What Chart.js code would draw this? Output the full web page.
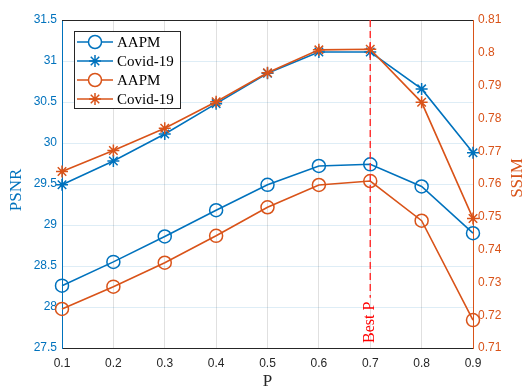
<!DOCTYPE html>
<html>
<head>
<meta charset="utf-8">
<script src="https://cdn.jsdelivr.net/npm/chart.js"></script>
<style>
    html, body { margin: 0; padding: 0; background: #fff; }
    #wrap { width: 527px; height: 390px; }
</style>
</head>
<body>
<div id="wrap"><canvas id="myChart" width="527" height="390"></canvas></div>
<script>
// values
const pValues = ['0.1', '0.2', '0.3', '0.4', '0.5', '0.6', '0.7', '0.8', '0.9'];
const psnrAapm = [28.26, 28.55, 28.86, 29.18, 29.49, 29.72, 29.74, 29.47, 28.90];
const psnrCovid = [29.49, 29.78, 30.11, 30.48, 30.85, 31.11, 31.11, 30.66, 29.88];
const ssimAapm = [0.7219, 0.7287, 0.7360, 0.7442, 0.7529, 0.7597, 0.7609, 0.7488, 0.7185];
const ssimCovid = [0.7638, 0.7702, 0.7770, 0.7851, 0.7939, 0.8009, 0.8011, 0.7849, 0.7495];
const psnrTicks = [27.5, 28, 28.5, 29, 29.5, 30, 30.5, 31, 31.5];
const ssimTicks = [0.71, 0.72, 0.73, 0.74, 0.75, 0.76, 0.77, 0.78, 0.79, 0.80, 0.81];
const bestP = '0.7';
const bestLabel = 'Best P';

const BLUE = '#0072BD';
const ORANGE = '#D95319';
const SANS = "'Liberation Sans', Arial, sans-serif";
const SERIF = "'Liberation Serif', 'Times New Roman', serif";

function makeSeries(label, data, color, marker, axis, order) {
    return {
        label: label,
        data: data,
        yAxisID: axis,
        order: order,
        borderColor: color,
        borderWidth: 1.6,
        tension: 0,
        fill: false,
        pointStyle: marker,
        pointRadius: marker === 'circle' ? 6.5 : 6,
        pointBorderWidth: 1.5,
        pointBorderColor: color,
        pointBackgroundColor: 'rgba(0,0,0,0)'
    };
}

function shortNum(v) {
    return String(Number(Number(v).toFixed(2)));
}

const extras = {
    id: 'matlab_extras',
    afterDatasetsDraw: (chart) => {
        const { ctx, chartArea, scales } = chart;
        ctx.save();

        // top box line
        ctx.strokeStyle = '#262626';
        ctx.lineWidth = 1;
        ctx.beginPath();
        ctx.moveTo(chartArea.left, chartArea.top + 0.5);
        ctx.lineTo(chartArea.right, chartArea.top + 0.5);
        ctx.stroke();

        // best P line + label
        const bx = scales.x.getPixelForValue(pValues.indexOf(bestP));
        ctx.font = '16px ' + SERIF;
        const textW = ctx.measureText(bestLabel).width;
        const textBottom = chartArea.bottom - 5;
        ctx.strokeStyle = '#FF2A2A';
        ctx.lineWidth = 1.4;
        ctx.setLineDash([7, 4]);
        ctx.beginPath();
        ctx.moveTo(bx, chartArea.top);
        ctx.lineTo(bx, textBottom - textW - 4);
        ctx.stroke();
        ctx.setLineDash([]);
        ctx.save();
        ctx.translate(bx, textBottom);
        ctx.rotate(-Math.PI / 2);
        ctx.fillStyle = '#FF0000';
        ctx.textAlign = 'left';
        ctx.textBaseline = 'middle';
        ctx.fillText(bestLabel, 0, 0);
        ctx.restore();

        // legend
        const items = chart.data.datasets;
        const lx = 74, ly = 31, lw = 106, lh = 77;
        ctx.fillStyle = '#fff';
        ctx.fillRect(lx, ly, lw, lh);
        ctx.strokeStyle = '#262626';
        ctx.lineWidth = 1;
        ctx.strokeRect(lx + 0.5, ly + 0.5, lw, lh);
        ctx.font = '15px ' + SERIF;
        ctx.textBaseline = 'middle';
        ctx.textAlign = 'left';
        items.forEach((ds, i) => {
            const y = ly + 11 + i * 19;
            ctx.strokeStyle = ds.borderColor;
            ctx.lineWidth = 1.6;
            ctx.beginPath();
            ctx.moveTo(lx + 3, y);
            ctx.lineTo(lx + 39, y);
            ctx.stroke();
            ctx.lineWidth = 1.5;
            ctx.fillStyle = '#fff';
            Chart.helpers.drawPoint(ctx, {
                pointStyle: ds.pointStyle,
                radius: ds.pointRadius,
                borderWidth: 1.5
            }, lx + 21, y);
            ctx.fillStyle = '#000';
            ctx.fillText(ds.label, lx + 43, y + 1);
        });

        // axis titles
        ctx.font = '17px ' + SERIF;
        ctx.textAlign = 'center';
        ctx.fillStyle = '#262626';
        ctx.fillText('P', (chartArea.left + chartArea.right) / 2, 382);
        [['PSNR', BLUE, 17, 190], ['SSIM', ORANGE, 518, 178]].forEach((t) => {
            ctx.save();
            ctx.translate(t[2], t[3]);
            ctx.rotate(-Math.PI / 2);
            ctx.fillStyle = t[1];
            ctx.fillText(t[0], 0, 0);
            ctx.restore();
        });

        ctx.restore();
    }
};

const ctx = document.getElementById('myChart').getContext('2d');
const myChart = new Chart(ctx, {
    type: 'line',
    data: {
        labels: pValues,
        datasets: [
            makeSeries('AAPM', psnrAapm, BLUE, 'circle', 'y', 1),
            makeSeries('Covid-19', psnrCovid, BLUE, 'star', 'y', 1),
            makeSeries('AAPM', ssimAapm, ORANGE, 'circle', 'y1', 0),
            makeSeries('Covid-19', ssimCovid, ORANGE, 'star', 'y1', 0)
        ]
    },
    options: {
        responsive: false,
        animation: false,
        layout: { padding: { top: 20, left: 0, right: 0, bottom: 0 } },
        plugins: {
            legend: { display: false },
            tooltip: { enabled: false }
        },
        scales: {
            x: {
                type: 'category',
                offset: false,
                grid: { color: 'rgba(38,38,38,0.14)', drawTicks: false },
                border: { color: '#262626', width: 1 },
                ticks: { color: '#262626', font: { family: SANS, size: 12 }, padding: 8, maxRotation: 0 },
                afterFit: (scale) => { scale.height = 42; }
            },
            y: {
                position: 'left',
                min: 27.5,
                max: 31.5,
                afterBuildTicks: (scale) => { scale.ticks = psnrTicks.map(v => ({ value: v })); },
                grid: { color: 'rgba(0,114,189,0.13)', drawTicks: false },
                border: { color: BLUE, width: 1 },
                ticks: { color: BLUE, font: { family: SANS, size: 12 }, padding: 5, callback: (v) => shortNum(v) },
                afterFit: (scale) => { scale.width = 62; }
            },
            y1: {
                position: 'right',
                min: 0.71,
                max: 0.81,
                afterBuildTicks: (scale) => { scale.ticks = ssimTicks.map(v => ({ value: v })); },
                grid: { display: false, drawTicks: false },
                border: { color: ORANGE, width: 1 },
                ticks: { color: ORANGE, font: { family: SANS, size: 12 }, padding: 5, callback: (v) => shortNum(v) },
                afterFit: (scale) => { scale.width = 54; }
            }
        }
    },
    plugins: [extras]
});
</script>
</body>
</html>
